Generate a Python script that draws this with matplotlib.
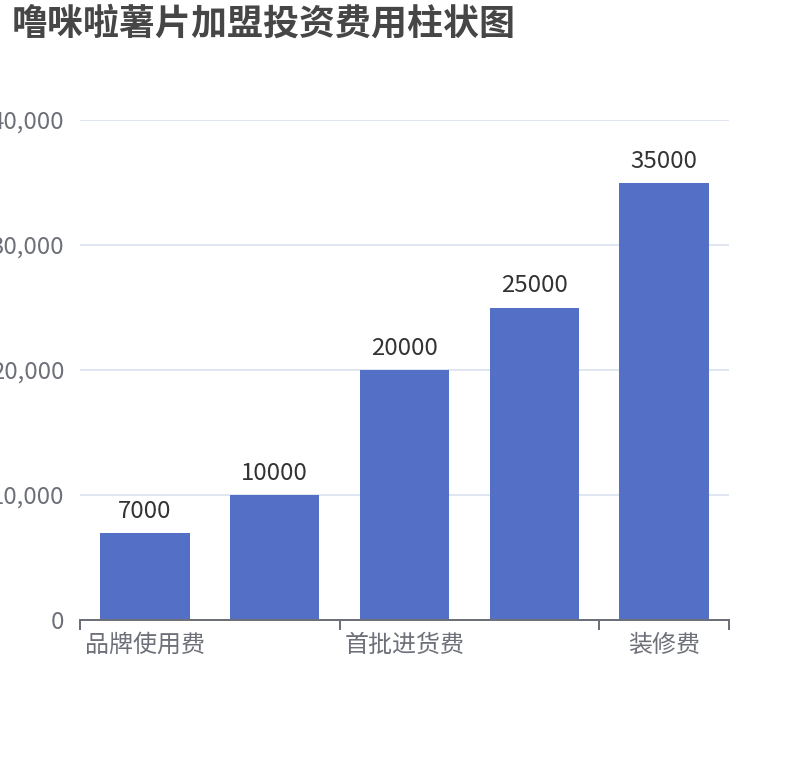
import matplotlib
matplotlib.use("Agg")
import matplotlib.pyplot as plt
from matplotlib.ticker import FuncFormatter, FixedLocator

plt.rcParams['font.family'] = ['Noto Sans CJK SC', 'DejaVu Sans']

title = "噜咪啦薯片加盟投资费用柱状图"
categories = ["品牌使用费", "加盟费", "首批进货费", "设备费", "装修费"]
values = [7000, 10000, 20000, 25000, 35000]
y_ticks = [0, 10000, 20000, 30000, 40000]
shown_label_idx = [0, 2, 4]

W, H = 810, 760
fig = plt.figure(figsize=(W / 100, H / 100), dpi=100)
ax = fig.add_axes([80 / W, 1 - 620 / H, (729 - 80) / W, (620 - 120) / H])

px = 72 / 100  # points per pixel

x = list(range(len(categories)))
bars = ax.bar(x, values, width=0.69, color="#5470C6", zorder=3)
for xi, v in zip(x, values):
    ax.annotate(str(v), (xi, v), xytext=(0, 10 * px), textcoords="offset points",
                ha="center", va="bottom", fontsize=24 * px, color="#333333", zorder=4)

ax.set_xlim(-0.5, len(categories) - 0.5)
ax.set_ylim(0, 40000)

ax.set_yticks(y_ticks)
ax.yaxis.set_major_formatter(FuncFormatter(lambda v, p: f"{int(v):,}"))
ax.tick_params(axis="y", length=0, pad=16 * px, labelsize=24 * px, labelcolor="#6E7079")
ax.grid(axis="y", color="#E0E6F1", linewidth=2 * px, zorder=0)

ax.set_xticks([x[i] for i in shown_label_idx])
ax.set_xticklabels([categories[i] for i in shown_label_idx])
ax.tick_params(axis="x", which="major", length=0, pad=14 * px, labelsize=24 * px, labelcolor="#6E7079")
ax.xaxis.set_minor_locator(FixedLocator([-0.5, 1.5, 3.5, 4.5]))
ax.tick_params(axis="x", which="minor", length=10 * px, width=2 * px, color="#6E7079", direction="out")

for s in ["top", "right", "left"]:
    ax.spines[s].set_visible(False)
ax.spines["bottom"].set_color("#6E7079")
ax.spines["bottom"].set_linewidth(2 * px)
ax.spines["bottom"].set_zorder(5)

fig.text(12 / W, 1 - 6 / H, title, ha="left", va="top", fontsize=36 * px,
         fontweight="bold", color="#464646")

fig.savefig("out.png", dpi=100)
